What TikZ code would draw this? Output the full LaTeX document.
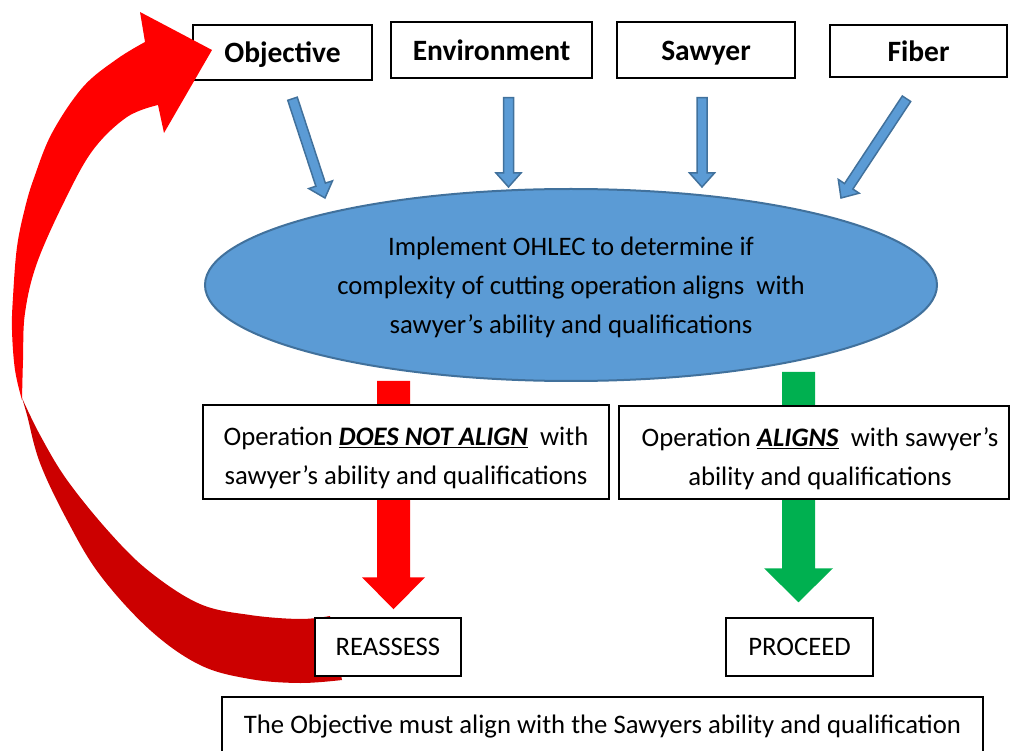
\documentclass[tikz,border=0pt]{standalone}
\usepackage{fontspec}
\setmainfont{Carlito}
\usetikzlibrary{shapes.geometric,calc}

\definecolor{boxblue}{HTML}{5B9BD5}
\definecolor{edgeblue}{HTML}{41719C}
\definecolor{alarmred}{HTML}{FF0000}
\definecolor{backred}{HTML}{CC0000}
\definecolor{okgreen}{HTML}{00B050}

\pgfdeclarelayer{background}
\pgfsetlayers{background,main}

% block arrow: style, tail, tip, half shaft, half head, head length
\newcommand{\blockarrow}[6]{%
  \coordinate (ba-h) at ($(#3)!#6!(#2)$);
  \path[#1] ($(#2)!#4!90:(#3)$) -- ($(ba-h)!#4!90:(#3)$) -- ($(ba-h)!#5!90:(#3)$) -- (#3)
    -- ($(ba-h)!#5!-90:(#3)$) -- ($(ba-h)!#4!-90:(#3)$) -- ($(#2)!#4!-90:(#3)$) -- cycle;}
\newcommand{\firstline}[1]{\rule{0pt}{#1}}

\tikzset{
  factor/.style={draw=black, line width=1.5pt, fill=white, inner sep=0pt,
    text height=21pt, text depth=0pt, font=\fontsize{29.5}{35}\selectfont\bfseries},
  outcome/.style={draw=black, line width=1.5pt, fill=white, inner sep=0pt, align=center,
    font=\fontsize{26.7}{39}\selectfont},
  inflow/.style={fill=boxblue, draw=edgeblue, line width=1.5pt},
}

\begin{document}
\begin{tikzpicture}[x=1pt,y=-1pt]
\useasboundingbox (0,0) rectangle (1010,751);
\clip (0,0) rectangle (1010,751);
% factors
\node[factor, minimum width=179pt, minimum height=55pt] (obj) at (282.5,52.5) {Objective};
\node[factor, minimum width=201pt, minimum height=56pt] (env) at (491.5,50) {Environment};
\node[factor, minimum width=178pt, minimum height=56pt] (saw) at (706,50) {Sawyer};
\node[factor, minimum width=177pt, minimum height=52pt] (fib) at (918.5,51) {Fiber};
% OHLEC
\node[ellipse, draw=edgeblue, line width=2pt, fill=boxblue, minimum width=732pt, minimum height=192pt,
  inner sep=0pt, align=center, font=\fontsize{26.7}{39}\selectfont] (ohlec) at (571,285)
  {\firstline{24pt}Implement OHLEC to determine if\\complexity of cutting operation aligns\ \ with\\sawyer’s ability and qualifications};
% outcomes
\node[outcome, minimum width=406pt, minimum height=94pt] (noalign) at (406,452)
  {\firstline{31pt}Operation \underline{\textbf{\textit{DOES NOT ALIGN}}}\ \ with\\sawyer’s ability and qualifications};
\node[outcome, minimum width=390pt, minimum height=93pt] (aligns) at (814,452.5)
  {\firstline{31pt}\hspace*{12pt}Operation \underline{\textbf{\textit{ALIGNS}}}\ \ with sawyer’s\\\hspace*{12pt}ability and qualifications};
% curved arrow back to the objective
\fill[backred] plot[smooth, tension=0.6] coordinates {(22,398) (27,415) (40,463) (67,520) (100,575) (150,630) (200,665) (250,679) (300,683) (342,680)}
  -- (330,616) -- plot[smooth, tension=0.6] coordinates {(330,616) (300,619) (250,615) (200,604) (150,572) (110,533) (67,480) (40,435) (22,398)} -- cycle;
\fill[alarmred] plot[smooth, tension=0.6] coordinates {(22,400) (15,370) (12,330) (13,297) (17,247) (25,208) (34,178) (52,133) (83,87) (117,59) (145,42)}
  -- (140,12) -- (212,50) -- (164,133)
  -- plot[smooth, tension=0.6] coordinates {(158,105) (127,117) (93,150) (65,200) (37,263) (25,313) (23,360) (22,400)} -- cycle;
% results
\node[outcome, minimum width=146pt, minimum height=58pt] (reassess) at (388,647) {REASSESS};
\node[outcome, minimum width=147pt, minimum height=58pt] (proceed) at (799.5,647) {PROCEED};
\node[outcome, minimum width=761pt, minimum height=60pt] (rule) at (602.5,727)
  {The Objective must align with the Sawyers ability and qualification};
\begin{pgfonlayer}{background}
  % inputs into OHLEC
  \coordinate (objtail) at ($(obj.south)+(10,18)$);
  \coordinate (envtail) at ($(env.south)+(17,19)$);
  \coordinate (sawtail) at ($(saw.south)+(-4,19)$);
  \coordinate (fibtail) at ($(fib.south)+(-12,21)$);
  \coordinate (objtip) at (325,198);
  \coordinate (envtip) at (508.5,187);
  \coordinate (sawtip) at (702,187);
  \coordinate (fibtip) at (841,198);
  \foreach \f in {obj,env,saw,fib}
    \blockarrow{inflow}{\f tail}{\f tip}{5pt}{12.5pt}{14pt};
  % decisions
  \coordinate (notop) at (393.5,381);
  \coordinate (okstop) at (798.5,372);
  \blockarrow{fill=alarmred}{notop}{$(reassess.north)+(5.5,-8)$}{16.5pt}{31.5pt}{32pt};
  \blockarrow{fill=okgreen}{okstop}{$(proceed.north)+(-1,-15)$}{16.5pt}{34.5pt}{34pt};
\end{pgfonlayer}
\end{tikzpicture}
\end{document}
